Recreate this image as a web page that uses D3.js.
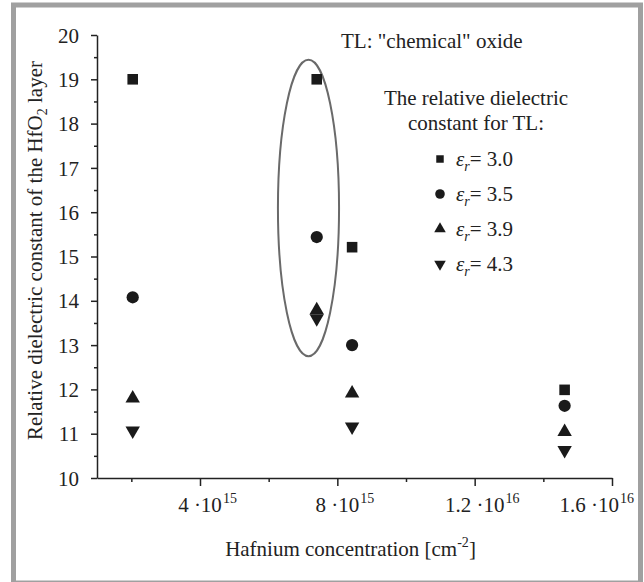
<!DOCTYPE html>
<html lang="en">
<head>
    <meta charset="UTF-8">
    <title>Relative dielectric constant vs Hafnium concentration</title>
    <script src="https://d3js.org/d3.v7.min.js"></script>
</head>
<body style="margin:0">
    <script>
        // Hafnium concentration of each sample [cm^-2]
        const hfConc = [2.04e15, 7.4e15, 8.43e15, 1.462e16];

        // relative dielectric constant of the HfO2 layer, one array per TL value
        const eps30 = [19.0, 19.0, 15.21, 11.99];
        const eps35 = [14.08, 15.44, 13.0, 11.63];
        const eps39 = [11.8, 13.79, 11.91, 11.04];
        const eps43 = [11.07, 13.6, 11.16, 10.63];

        const seriesNames = ['3.0', '3.5', '3.9', '4.3'];

        const yTicks = [10, 11, 12, 13, 14, 15, 16, 17, 18, 19, 20];
        const yMinorTicks = [10.5, 11.5, 12.5, 13.5, 14.5, 15.5, 16.5, 17.5, 18.5, 19.5];
        const xTicks = [4e15, 8e15, 1.2e16, 1.6e16];
        const xMinorTicks = [2e15, 6e15, 1e16, 1.4e16];
        const xTickMain = ['4 \u00b710', '8 \u00b710', '1.2 \u00b710', '1.6 \u00b710'];
        const xTickExp = ['15', '15', '16', '16'];

        // the ellipse round the 7.4e15 column (data units)
        const ellipseX = [6.27e15, 8.05e15];
        const ellipseY = [12.75, 19.44];

        const FONT = '"Liberation Serif"';
        const W = 644, H = 582;
        const margin = { top: 35, right: 32, bottom: 104, left: 97 };

        const svg = d3.select('body').append('svg')
            .attr('width', W)
            .attr('height', H);

        // every text goes through here so the serif face is set on the element itself
        function label(parent, size) {
            return parent.append('text')
                .attr('font-family', FONT)
                .style('font-family', FONT)
                .style('font-size', size + 'px')
                .attr('fill', '#222');
        }

        function styleAxis(g) {
            g.attr('font-family', FONT);
            g.selectAll('path, line').attr('stroke', '#222').attr('stroke-width', 1.5);
        }

        // grey frame
        svg.append('rect')
            .attr('x', 13.5)
            .attr('y', 5)
            .attr('width', 627)
            .attr('height', 578)
            .attr('fill', '#fff')
            .attr('stroke', '#a0a0a0')
            .attr('stroke-width', 5);

        const x = d3.scaleLinear()
            .domain([1e15, 1.6e16])
            .range([margin.left, W - margin.right]);

        const y = d3.scaleLinear()
            .domain([10, 20])
            .range([H - margin.bottom, margin.top]);

        const x0 = margin.left, y0 = H - margin.bottom;

        // y axis: minor then major ticks
        svg.append('g')
            .attr('transform', `translate(${x0},0)`)
            .call(d3.axisLeft(y).tickValues(yMinorTicks).tickSize(3).tickFormat(''))
            .call(g => g.select('.domain').remove())
            .call(styleAxis);

        const yAxis = svg.append('g')
            .attr('transform', `translate(${x0},0)`)
            .call(d3.axisLeft(y).tickValues(yTicks).tickSize(6).tickSizeOuter(0).tickPadding(12))
            .call(styleAxis);
        yAxis.selectAll('text')
            .attr('font-family', FONT)
            .style('font-family', FONT)
            .style('font-size', '21px')
            .attr('fill', '#222')
            .attr('dy', '0.34em');

        // x axis: minor and major ticks, labels built by hand for the powers
        svg.append('g')
            .attr('transform', `translate(0,${y0})`)
            .call(d3.axisBottom(x).tickValues(xMinorTicks).tickSize(4).tickFormat(''))
            .call(g => g.select('.domain').remove())
            .call(styleAxis);

        svg.append('g')
            .attr('transform', `translate(0,${y0})`)
            .call(d3.axisBottom(x).tickValues(xTicks).tickSize(8).tickSizeOuter(0).tickFormat(''))
            .call(styleAxis);

        const rightLimit = 634;
        xTicks.forEach((v, i) => {
            const g = svg.append('g');
            const main = label(g, 21)
                .attr('x', x(v))
                .attr('y', y0 + 34)
                .attr('text-anchor', 'middle')
                .text(xTickMain[i]);
            const bb = main.node().getBBox();
            const sup = label(g, 14)
                .attr('x', bb.x + bb.width + 1)
                .attr('y', y0 + 25)
                .text(xTickExp[i]);
            const sb = sup.node().getBBox();
            const over = sb.x + sb.width - rightLimit;
            if (over > 0) g.attr('transform', `translate(${-over},0)`);
        });

        // axis titles
        const xTitle = label(svg, 21)
            .attr('x', (x.range()[0] + x.range()[1]) / 2 - 4)
            .attr('y', y0 + 78)
            .attr('text-anchor', 'middle');
        xTitle.append('tspan').text('Hafnium concentration [cm');
        xTitle.append('tspan').attr('dy', -9).style('font-size', '14px').text('-2');
        xTitle.append('tspan').attr('dy', 9).text(']');

        const yTitle = label(svg, 21)
            .attr('transform', `translate(42,${(y.range()[0] + y.range()[1]) / 2 - 6}) rotate(-90)`)
            .attr('text-anchor', 'middle');
        yTitle.append('tspan').text('Relative dielectric constant of the HfO');
        yTitle.append('tspan').attr('dy', 5).style('font-size', '14px').text('2');
        yTitle.append('tspan').attr('dy', -5).text(' layer');

        // ellipse
        svg.append('ellipse')
            .attr('cx', x((ellipseX[0] + ellipseX[1]) / 2))
            .attr('cy', y((ellipseY[0] + ellipseY[1]) / 2))
            .attr('rx', (x(ellipseX[1]) - x(ellipseX[0])) / 2)
            .attr('ry', (y(ellipseY[0]) - y(ellipseY[1])) / 2)
            .attr('fill', 'none')
            .attr('stroke', '#6a6a6a')
            .attr('stroke-width', 2);

        // markers
        const series = [
            { vals: eps30, sym: d3.symbolSquare, size: 112, legSize: 56, rot: 0 },
            { vals: eps35, sym: d3.symbolCircle, size: 118, legSize: 72, rot: 0 },
            { vals: eps39, sym: d3.symbolTriangle, size: 90, legSize: 58, rot: 0 },
            { vals: eps43, sym: d3.symbolTriangle, size: 90, legSize: 58, rot: 180 }
        ];

        series.forEach(s => {
            svg.append('g').selectAll('path')
                .data(s.vals)
                .enter().append('path')
                .attr('d', d3.symbol().type(s.sym).size(s.size))
                .attr('transform', (d, i) => `translate(${x(hfConc[i])},${y(d)}) rotate(${s.rot})`)
                .attr('fill', '#1a1a1a');
        });

        // annotation + legend
        label(svg, 21)
            .attr('x', 341)
            .attr('y', 48)
            .text('TL: "chemical" oxide');

        const legX = 476;
        label(svg, 21)
            .attr('x', legX)
            .attr('y', 105)
            .attr('text-anchor', 'middle')
            .text('The relative dielectric');
        label(svg, 21)
            .attr('x', legX)
            .attr('y', 130)
            .attr('text-anchor', 'middle')
            .text('constant for TL:');

        series.forEach((s, i) => {
            const cy = 159 + i * 35;
            svg.append('path')
                .attr('d', d3.symbol().type(s.sym).size(s.legSize))
                .attr('transform', `translate(440,${cy}) rotate(${s.rot})`)
                .attr('fill', '#1a1a1a');
            const t = label(svg, 21)
                .attr('x', 456)
                .attr('y', cy + 7);
            t.append('tspan').style('font-style', 'italic').text('\u03b5');
            t.append('tspan').attr('dy', 5).style('font-style', 'italic').style('font-size', '14px').text('r');
            t.append('tspan').attr('dy', -5).text('= ' + seriesNames[i]);
        });
    </script>
</body>
</html>
